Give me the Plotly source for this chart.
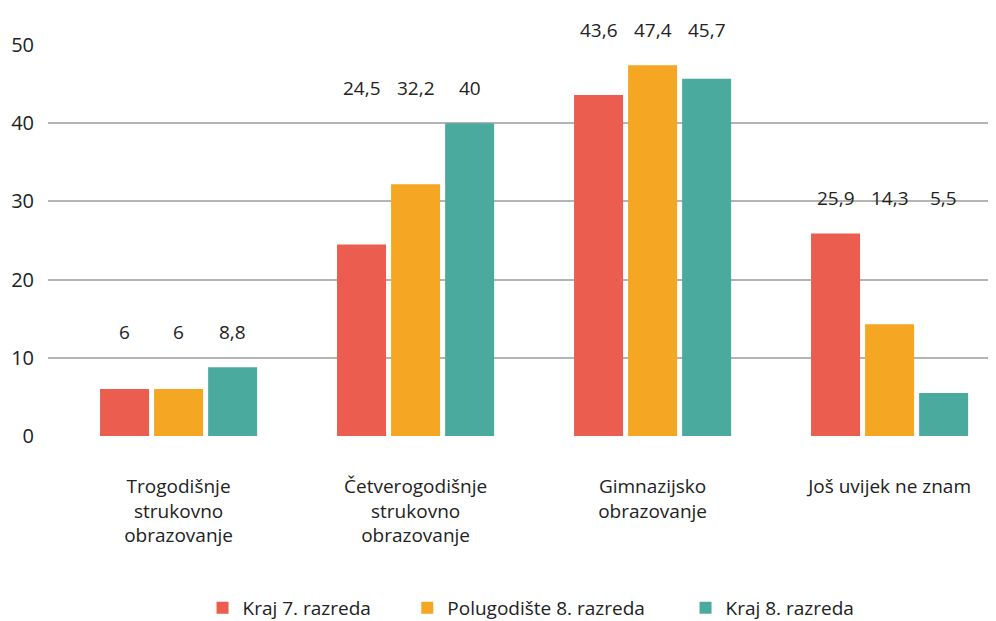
import plotly.graph_objects as go

categories = [
    "Trogodišnje<br>strukovno<br>obrazovanje",
    "Četverogodišnje<br>strukovno<br>obrazovanje",
    "Gimnazijsko<br>obrazovanje",
    "Još uvijek ne znam",
]
series_names = ["Kraj 7. razreda", "Polugodište 8. razreda", "Kraj 8. razreda"]
kraj_7 = [6, 24.5, 43.6, 25.9]
polugodiste_8 = [6, 32.2, 47.4, 14.3]
kraj_8 = [8.8, 40, 45.7, 5.5]
y_ticks = [0, 10, 20, 30, 40, 50]

COLORS = ["#EB5E4F", "#F5A623", "#4BAA9E"]
FONT = "Open Sans, Lato, sans-serif"
TEXT = "#222222"

series = [kraj_7, polugodiste_8, kraj_8]
legend_ids = ["legend", "legend2", "legend3"]
legend_x = [0.163, 0.379, 0.6725]

fig = go.Figure()
for name, values, color, lg in zip(series_names, series, COLORS, legend_ids):
    fig.add_trace(go.Bar(
        x=categories,
        y=values,
        name=name,
        legend=lg,
        marker=dict(color=color, line=dict(width=0)),
    ))

# value labels sit in a row above the tallest bar of each group
for i, cat in enumerate(categories):
    top = max(s[i] for s in series)
    for j, s in enumerate(series):
        fig.add_annotation(
            x=cat, y=top, xref="x", yref="y",
            text=f"{s[i]:g}".replace(".", ","),
            showarrow=False, xshift=(j - 1) * 54, yshift=35,
            font=dict(family=FONT, size=19, color=TEXT),
        )

legend_style = dict(
    orientation="h", xanchor="left", yref="container", y=0.034,
    yanchor="middle", font=dict(family=FONT, size=19, color=TEXT),
    itemwidth=30,
)

# page body adds an 8px offset, margins compensate for it
fig.update_layout(
    width=996, height=621,
    margin=dict(l=40, r=8, t=37, b=193),
    plot_bgcolor="white", paper_bgcolor="white",
    barmode="group", bargap=0.316, bargroupgap=0.093,
    font=dict(family=FONT, color=TEXT),
    showlegend=True,
    legend=dict(x=legend_x[0], **legend_style),
    legend2=dict(x=legend_x[1], **legend_style),
    legend3=dict(x=legend_x[2], **legend_style),
    xaxis=dict(
        range=[-0.551, 3.449], showgrid=False, zeroline=False,
        showline=False, ticks="", ticklabelstandoff=37, automargin=False,
        tickfont=dict(family=FONT, size=19, color=TEXT),
    ),
    yaxis=dict(
        range=[0, 50], tickvals=y_ticks, showgrid=True,
        gridcolor="#b4b4b4", gridwidth=1.5, zeroline=False,
        showline=False, ticks="", ticklabelstandoff=13, automargin=False,
        tickfont=dict(family=FONT, size=20, color=TEXT),
    ),
)

fig.write_html("out.html")
